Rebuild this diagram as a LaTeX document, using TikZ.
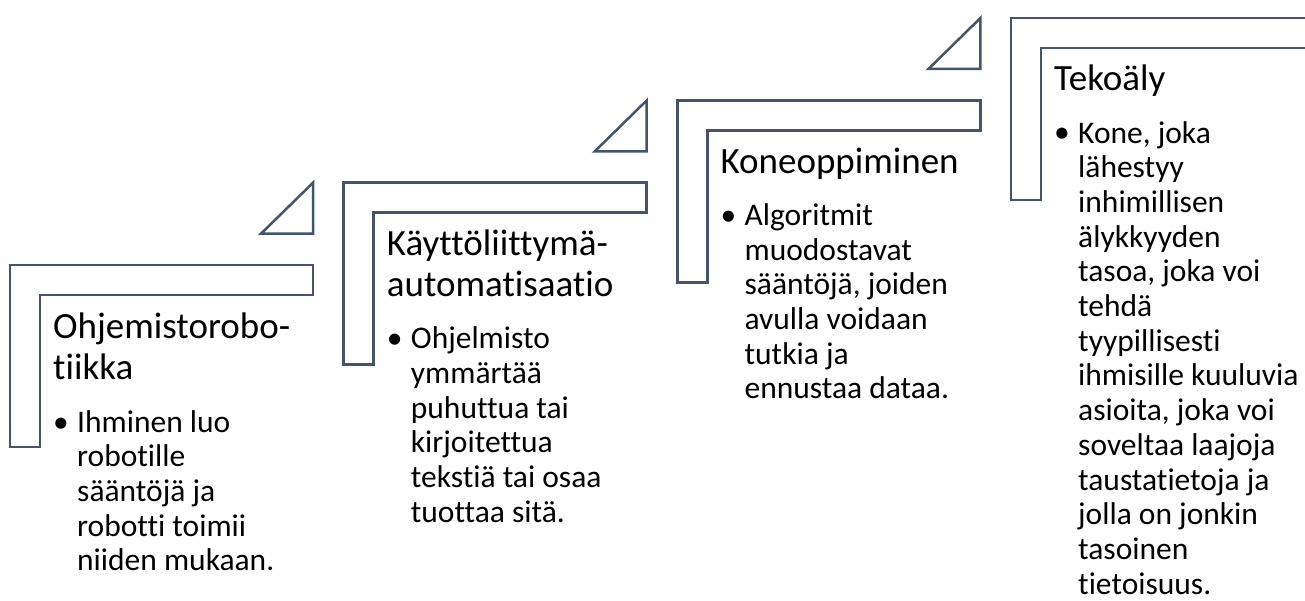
\documentclass[tikz,border=0pt]{standalone}
\usepackage{fontspec}
\setmainfont{Carlito}[Ligatures={NoCommon}]
\definecolor{stepline}{HTML}{44546A}
\tikzset{
  stepshape/.style={draw=stepline, line width=2.5pt, fill=white, line join=miter},
  % multi-line nodes are anchored at the baseline of their last line
  titletext/.style={anchor=base west, inner sep=0pt, align=left, font=\fontsize{37}{41}\selectfont},
  bodytext/.style={anchor=base west, inner sep=0pt, align=left, font=\fontsize{31.5}{34.7}\selectfont},
  bullettext/.style={anchor=base west, inner sep=0pt, font=\fontsize{31.5}{34.7}\selectfont},
}
\begin{document}
\begin{tikzpicture}[x=1pt,y=-1pt]
\useasboundingbox (0,0) rectangle (1305,601);
\begin{scope}
  \clip (0,0) rectangle (1305,601);
  % L-shaped steps, rising to the right
  \foreach \L/\T in {10/265, 343.7/182.7, 677.4/100.4, 1011/18} {
    \draw[stepshape] (\L,\T) -- ++(303,0) -- ++(0,30) -- ++(-273,0)
      -- ++(0,152) -- ++(-30,0) -- cycle;
  }
  % small corner triangles between the steps
  \foreach \R/\T in {313/182.7, 646.7/100.4, 980.4/18} {
    \draw[stepshape] (\R,\T) -- ++(0,51) -- ++(-52,0) -- cycle;
  }
\end{scope}

% step 1
\node[titletext] (t1) at (53,379) {Ohjemistorobo-\\tiikka};
\node[bullettext] (u1) at (53,432) {•};
\node[bodytext] (b1) at (77,570.8) {Ihminen luo\\robotille\\sääntöjä ja\\robotti toimii\\niiden mukaan.};

% step 2
\node[titletext] (t2) at (386.7,296.7) {Käyttöliittymä-\\automatisaatio};
\node[bullettext] (u2) at (386.7,348.7) {•};
\node[bodytext] (b2) at (410.7,522.2) {Ohjelmisto\\ymmärtää\\puhuttua tai\\kirjoitettua\\tekstiä tai osaa\\tuottaa sitä.};

% step 3
\node[titletext] (t3) at (720.4,173.4) {Koneoppiminen};
\node[bullettext] (u3) at (720.4,225.4) {•};
\node[bodytext] (b3) at (744.4,398.9) {Algoritmit\\muodostavat\\sääntöjä, joiden\\avulla voidaan\\tutkia ja\\ennustaa dataa.};

% step 4
\node[titletext] (t4) at (1054,91) {Tekoäly};
\node[bullettext] (u4) at (1054,143) {•};
\node[bodytext] (b4) at (1078,594.1) {Kone, joka\\lähestyy\\inhimillisen\\älykkyyden\\tasoa, joka voi\\tehdä\\tyypillisesti\\ihmisille kuuluvia\\asioita, joka voi\\soveltaa laajoja\\taustatietoja ja\\jolla on jonkin\\tasoinen\\tietoisuus.};
\end{tikzpicture}
\end{document}
